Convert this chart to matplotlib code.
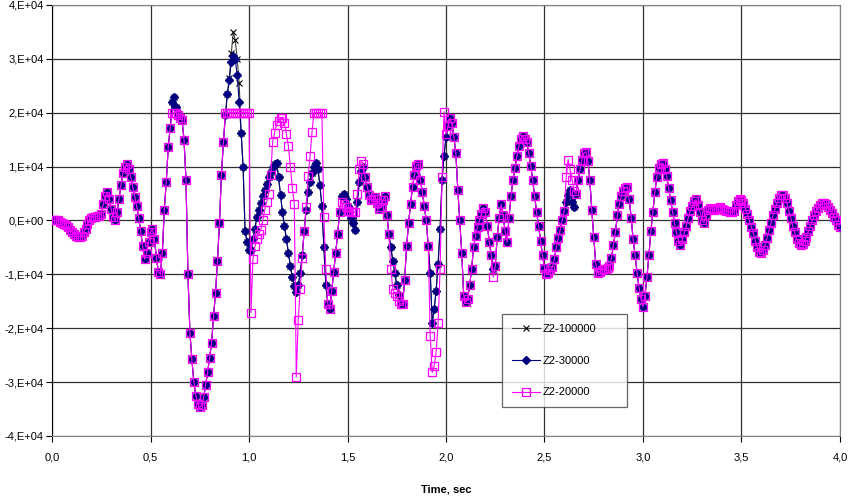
import numpy as np
import matplotlib
matplotlib.use("Agg")
import matplotlib.pyplot as plt

plt.rcParams['font.family'] = ['Liberation Sans', 'DejaVu Sans']

# sample step of the traces, sec
dt = 0.01

# Z2-100000, in units of 1E+04, one value every 0.01 s from 0.00 to 4.00
z100000 = [
    0.00, 0.00, 0.00, 0.00, -0.02, -0.04, -0.06, -0.09, -0.13, -0.17,   # 0.0
    -0.21, -0.25, -0.28, -0.30, -0.30, -0.28, -0.22, -0.15, -0.07, 0.00,  # 0.1
    0.04, 0.06, 0.07, 0.08, 0.09, 0.12, 0.30, 0.45, 0.52, 0.40,           # 0.2
    0.22, 0.06, 0.00, 0.15, 0.40, 0.65, 0.88, 1.00, 1.04, 0.95,           # 0.3
    0.80, 0.62, 0.44, 0.26, 0.05, -0.20, -0.48, -0.72, -0.60, -0.40,      # 0.4
    -0.22, -0.15, -0.35, -0.70, -0.95, -1.00, -0.60, 0.20, 0.72, 1.37,    # 0.5
    1.72, 2.20, 2.30, 2.10, 1.95, 1.90, 1.87, 1.50, 0.76, -1.00,          # 0.6
    -2.08, -2.58, -3.00, -3.25, -3.40, -3.47, -3.42, -3.28, -3.05, -2.82, # 0.7
    -2.55, -2.27, -1.78, -1.34, -0.75, -0.04, 0.85, 1.45, 1.95, 2.35,     # 0.8
    2.65, 3.10, 3.50, 3.35, 3.00, 2.56, 1.63, 1.00, -0.20, -0.40,         # 0.9
    -0.55, -0.55, -0.35, -0.15, 0.07, 0.20, 0.33, 0.45, 0.57, 0.67,       # 1.0
    0.80, 0.90, 1.00, 1.05, 1.07, 0.80, 0.48, 0.15, -0.10, -0.35,         # 1.1
    -0.60, -0.85, -1.05, -1.22, -1.32, -1.20, -0.97, -0.65, -0.20, 0.20,  # 1.2
    0.52, 0.72, 0.89, 1.00, 1.07, 0.95, 0.65, 0.26, -0.50, -1.20,         # 1.3
    -1.55, -1.65, -1.30, -0.95, -0.60, -0.25, 0.15, 0.45, 0.50, 0.40,     # 1.4
    0.26, 0.15, 0.05, -0.04, -0.17, 0.35, 0.72, 0.92, 1.00, 0.80,         # 1.5
    0.63, 0.48, 0.38, 0.40, 0.43, 0.32, 0.22, 0.25, 0.38, 0.45,           # 1.6
    0.10, -0.25, -0.50, -0.75, -0.97, -1.20, -1.38, -1.55, -1.55, -1.10,  # 1.7
    -0.48, -0.05, 0.30, 0.63, 0.85, 1.02, 1.05, 0.76, 0.52, 0.26,         # 1.8
    0.00, -0.48, -0.97, -1.90, -1.65, -1.30, -0.80, -0.15, 0.76, 1.20,    # 1.9
    1.55, 1.75, 1.90, 1.80, 1.55, 1.25, 0.57, 0.00, -0.60, -1.40,         # 2.0
    -1.52, -1.45, -1.20, -0.90, -0.50, -0.28, -0.12, 0.00, 0.12, 0.24,    # 2.1
    0.15, -0.10, -0.40, -0.65, -0.90, -0.85, -0.30, 0.05, 0.30, 0.10,     # 2.2
    -0.20, -0.40, 0.05, 0.45, 0.76, 0.98, 1.19, 1.38, 1.52, 1.56,         # 2.3
    1.52, 1.45, 1.25, 1.02, 0.75, 0.45, 0.15, -0.10, -0.38, -0.65,        # 2.4
    -0.88, -1.00, -0.98, -0.92, -0.86, -0.72, -0.50, -0.32, -0.17, 0.00,  # 2.5
    0.18, 0.35, 0.48, 0.57, 0.35, 0.25, 0.50, 0.76, 0.95, 1.13,          # 2.6
    1.25, 1.28, 1.10, 0.76, 0.20, -0.30, -0.80, -0.97, -0.95, -0.92,      # 2.7
    -0.90, -0.90, -0.88, -0.85, -0.70, -0.45, -0.22, 0.10, 0.30, 0.45,    # 2.8
    0.55, 0.60, 0.63, 0.40, 0.05, -0.35, -0.65, -0.97, -1.25, -1.45,      # 2.9
    -1.60, -1.40, -1.05, -0.65, -0.20, 0.15, 0.52, 0.80, 0.98, 1.05,      # 3.0
    1.07, 0.95, 0.82, 0.60, 0.38, 0.15, -0.05, -0.22, -0.38, -0.45,       # 3.1
    -0.35, -0.22, -0.10, 0.05, 0.18, 0.26, 0.36, 0.39, 0.28, 0.15,        # 3.2
    0.00, -0.04, 0.10, 0.20, 0.24, 0.22, 0.20, 0.22, 0.24, 0.25,          # 3.3
    0.22, 0.20, 0.18, 0.17, 0.16, 0.15, 0.18, 0.28, 0.36, 0.40,           # 3.4
    0.38, 0.32, 0.22, 0.12, 0.00, -0.12, -0.24, -0.38, -0.50, -0.58,      # 3.5
    -0.60, -0.55, -0.45, -0.32, -0.18, -0.05, 0.10, 0.22, 0.32, 0.42,     # 3.6
    0.47, 0.48, 0.42, 0.32, 0.18, 0.05, -0.10, -0.22, -0.34, -0.42,       # 3.7
    -0.46, -0.44, -0.38, -0.30, -0.20, -0.10, 0.00, 0.10, 0.18, 0.24,     # 3.8
    0.29, 0.32, 0.32, 0.30, 0.25, 0.20, 0.14, 0.07, 0.00, -0.08,          # 3.9
    -0.13,                                                                # 4.0
]

# Z2-30000 follows Z2-100000 except for a lower peak near 0.9 s
z30000_start = 0.90
z30000_peak = [2.60, 2.95, 3.05, 3.00, 2.70, 2.20]

# Z2-20000 differs in these time windows: (start time, values)
z20000_parts = [
    (0.61, [2.00, 2.00, 2.00, 1.95]),
    (0.88, [2.00, 2.00, 2.00, 2.00, 2.00, 2.00, 2.00, 2.00, 2.00, 2.00, 2.00, 2.00, 2.00]),
    (1.01, [-1.71, -0.72, -0.48, -0.35, -0.25, -0.17, 0.00, 0.20, 0.35, 0.50,
            0.85, 1.45, 1.63, 1.78, 1.85, 1.90, 1.90, 1.80, 1.60, 1.38,
            1.00, 0.60, 0.30, -2.90, -1.84, -1.28, -0.70, -0.20, 0.25, 0.82,
            1.19, 1.65, 2.00, 2.00, 2.00, 2.00, 2.00, 0.07, -0.90]),
    (1.47, [0.35, 0.30, 0.25, 0.17, 0.17, 0.15, 0.15, 0.15, 0.50, 0.95, 1.10, 1.05]),
    (1.72, [-0.90, -1.28, -1.35, -1.40, -1.50, -1.55]),
    (1.92, [-2.15, -2.82, -2.70, -2.45, -1.90, -0.90, 0.80, 2.02, 1.60]),
    (2.24, [-1.05]),
    (2.61, [0.80, 1.13, 0.95, 0.76, 0.55]),
]

ytick_vals = [-4, -3, -2, -1, 0, 1, 2, 3, 4]
ytick_labels = ['-4,E+04', '-3,E+04', '-2,E+04', '-1,E+04', '0,E+00',
                '1,E+04', '2,E+04', '3,E+04', '4,E+04']
xtick_vals = [0.0, 0.5, 1.0, 1.5, 2.0, 2.5, 3.0, 3.5, 4.0]
xtick_labels = ['0,0', '0,5', '1,0', '1,5', '2,0', '2,5', '3,0', '3,5', '4,0']

# build the three series
t = np.arange(len(z100000)) * dt
y100 = np.array(z100000) * 1e4

y30 = np.array(z100000)
i0 = int(round(z30000_start / dt))
y30[i0:i0 + len(z30000_peak)] = z30000_peak
y30 = y30 * 1e4

y20 = np.array(z100000)
for start, vals in z20000_parts:
    i0 = int(round(start / dt))
    y20[i0:i0 + len(vals)] = vals
y20 = y20 * 1e4

fig = plt.figure(figsize=(8.5, 4.96), dpi=100)
ax = fig.add_axes([0.0612, 0.121, 0.927, 0.869])

ax.plot(t, y100, color='#404040', lw=0.8, marker='x', ms=5, mec='black',
        mew=0.8, label='Z2-100000', zorder=3)
ax.plot(t, y30, color='#000080', lw=0.8, marker='D', ms=4, mfc='#000080',
        mec='#000080', label='Z2-30000', zorder=4)
ax.plot(t, y20, color='#FF00FF', lw=0.8, marker='s', ms=5.5, mfc='none',
        mec='#FF00FF', mew=0.9, label='Z2-20000', zorder=5)

ax.set_xlim(0, 4)
ax.set_ylim(-4e4, 4e4)
ax.set_xticks(xtick_vals)
ax.set_xticklabels(xtick_labels)
ax.set_yticks([v * 1e4 for v in ytick_vals])
ax.set_yticklabels(ytick_labels)
ax.tick_params(labelsize=8, length=4, width=0.8, color='black', pad=8)
ax.tick_params(axis='y', pad=2)

ax.grid(True, color='#303030', lw=0.9)
ax.set_axisbelow(True)
for side in ['top', 'right', 'bottom']:
    ax.spines[side].set_color('#808080')
ax.spines['left'].set_color('black')

ax.set_xlabel('Time, sec', fontsize=8, fontweight='bold', labelpad=16)

leg = ax.legend(loc='center', bbox_to_anchor=(0.571, 0.063, 0.159, 0.223),
                mode='expand', fontsize=8, frameon=True, fancybox=False,
                borderaxespad=0, labelspacing=1.95, handlelength=2.5,
                borderpad=0.9, handletextpad=0.3)
leg.get_frame().set_edgecolor('#404040')
leg.get_frame().set_linewidth(0.9)
leg.set_zorder(10)

fig.savefig('out.png', dpi=100)
